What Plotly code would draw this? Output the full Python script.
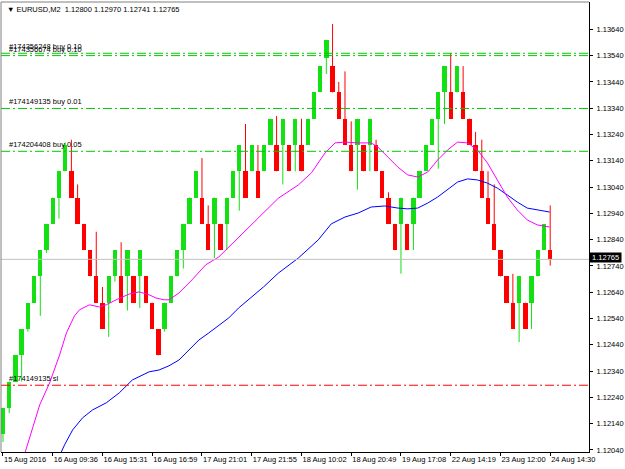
import plotly.graph_objects as go

# ---------------- data ----------------
bar_index = list(range(89))

open_ = [1.121, 1.122, 1.123, 1.124, 1.125, 1.126, 1.127, 1.128, 1.129, 1.130,
         1.131, 1.131, 1.130, 1.129, 1.128, 1.127, 1.126, 1.126, 1.127, 1.127,
         1.127, 1.127, 1.127, 1.127, 1.126, 1.125, 1.125, 1.126, 1.127, 1.128,
         1.129, 1.130, 1.130, 1.129, 1.129, 1.129, 1.129, 1.130, 1.131, 1.131,
         1.131, 1.131, 1.131, 1.132, 1.132, 1.132, 1.132, 1.132, 1.132, 1.132,
         1.133, 1.134, 1.1353, 1.135, 1.134, 1.133, 1.132, 1.132, 1.132, 1.132,
         1.132, 1.131, 1.130, 1.129, 1.129, 1.129, 1.129, 1.130, 1.131, 1.132,
         1.133, 1.134, 1.134, 1.134, 1.134, 1.133, 1.132, 1.131, 1.130, 1.129,
         1.128, 1.127, 1.126, 1.126, 1.126, 1.126, 1.127, 1.128, 1.128]

close_ = [1.122, 1.123, 1.124, 1.125, 1.126, 1.127, 1.128, 1.129, 1.130, 1.131,
          1.132, 1.130, 1.129, 1.128, 1.127, 1.126, 1.125, 1.127, 1.128, 1.126,
          1.128, 1.126, 1.128, 1.126, 1.125, 1.124, 1.126, 1.127, 1.128, 1.129,
          1.130, 1.131, 1.129, 1.128, 1.130, 1.128, 1.130, 1.131, 1.132, 1.130,
          1.132, 1.130, 1.132, 1.133, 1.131, 1.133, 1.131, 1.133, 1.131, 1.133,
          1.134, 1.135, 1.136, 1.134, 1.133, 1.132, 1.131, 1.133, 1.131, 1.133,
          1.131, 1.130, 1.129, 1.128, 1.130, 1.128, 1.130, 1.131, 1.132, 1.133,
          1.134, 1.135, 1.133, 1.135, 1.133, 1.132, 1.131, 1.130, 1.129, 1.128,
          1.127, 1.126, 1.125, 1.127, 1.125, 1.127, 1.128, 1.129, 1.12765]

high_ = [1.122, 1.123, 1.124, 1.125, 1.126, 1.127, 1.128, 1.129, 1.130, 1.131,
         1.1321, 1.1322, 1.1305, 1.129, 1.128, 1.1287, 1.1266, 1.127, 1.128, 1.1283,
         1.128, 1.127, 1.128, 1.127, 1.126, 1.125, 1.126, 1.127, 1.128, 1.129,
         1.130, 1.131, 1.1315, 1.1297, 1.130, 1.129, 1.130, 1.131, 1.132, 1.1328,
         1.132, 1.132, 1.132, 1.133, 1.1331, 1.133, 1.132, 1.133, 1.1330, 1.133,
         1.134, 1.135, 1.136, 1.1366, 1.1344, 1.1348, 1.1329, 1.133, 1.132, 1.133,
         1.1322, 1.131, 1.1302, 1.129, 1.130, 1.129, 1.130, 1.131, 1.132, 1.133,
         1.134, 1.135, 1.1355, 1.135, 1.135, 1.133, 1.1325, 1.1322, 1.131, 1.1305,
         1.128, 1.127, 1.1271, 1.127, 1.126, 1.127, 1.128, 1.129, 1.1297]

low_ = [1.1207, 1.1218, 1.123, 1.123, 1.1249, 1.126, 1.1255, 1.1279, 1.129, 1.1292,
        1.131, 1.130, 1.129, 1.128, 1.127, 1.126, 1.125, 1.1247, 1.1268, 1.126,
        1.1257, 1.126, 1.1258, 1.126, 1.125, 1.124, 1.1249, 1.126, 1.127, 1.1273,
        1.129, 1.130, 1.129, 1.128, 1.1277, 1.128, 1.128, 1.130, 1.1295, 1.130,
        1.131, 1.130, 1.131, 1.132, 1.131, 1.1305, 1.131, 1.131, 1.131, 1.132,
        1.133, 1.134, 1.1347, 1.134, 1.133, 1.132, 1.131, 1.1303, 1.131, 1.131,
        1.131, 1.130, 1.129, 1.128, 1.1271, 1.128, 1.128, 1.130, 1.131, 1.132,
        1.1311, 1.1328, 1.133, 1.134, 1.133, 1.132, 1.131, 1.130, 1.129, 1.128,
        1.127, 1.126, 1.125, 1.1245, 1.125, 1.125, 1.127, 1.128, 1.12741]

# fast moving average (magenta)
ma_fast_x = [2.7, 4.3, 5.9, 7.5, 9.1, 10.2, 11.5, 12.3, 13.9, 15.5, 16.6, 18.2, 19.2,
             20.3, 21.9, 23.5, 24.6, 25.9, 26.7, 28.3, 30.4, 32.6, 34.7, 37.9, 41.1,
             44.3, 47.5, 49.6, 51.8, 53.4, 55.0, 57.1, 59.2, 60.3, 61.9, 63.5, 65.1,
             66.7, 68.3, 69.9, 71.5, 73.1, 74.7, 76.3, 77.9, 79.5, 81.1, 82.7, 84.3,
             85.9, 87.9]
ma_fast_y = [1.11964, 1.12090, 1.12211, 1.12295, 1.12401, 1.12485, 1.12550, 1.12573,
             1.12592, 1.12584, 1.12592, 1.12611, 1.12622, 1.12633, 1.12641, 1.12630,
             1.12618, 1.12611, 1.12611, 1.12637, 1.12687, 1.12744, 1.12774, 1.12850,
             1.12926, 1.12998, 1.13048, 1.13094, 1.13170, 1.13208, 1.13211, 1.13208,
             1.13208, 1.13192, 1.13154, 1.13116, 1.13086, 1.13078, 1.13097, 1.13143,
             1.13181, 1.13211, 1.13208, 1.13181, 1.13132, 1.13067, 1.13002, 1.12953,
             1.12915, 1.12896, 1.12888]

# slow moving average (blue)
ma_slow_x = [8.8, 9.9, 11.2, 12.8, 14.4, 16.6, 18.7, 20.8, 23.5, 25.1, 26.7, 28.3,
             29.9, 31.5, 33.1, 34.7, 36.3, 37.9, 39.5, 41.9, 44.3, 47.5, 50.7, 52.8,
             55.0, 57.1, 59.2, 61.4, 63.5, 65.1, 66.7, 68.3, 69.9, 71.5, 73.1, 74.7,
             76.3, 77.9, 79.5, 81.1, 82.7, 84.3, 85.9, 87.9]
ma_slow_y = [1.12002, 1.12059, 1.12116, 1.12162, 1.12192, 1.12219, 1.12257, 1.12306,
             1.12337, 1.12344, 1.12360, 1.12382, 1.12420, 1.12458, 1.12485, 1.12512,
             1.12542, 1.12580, 1.12611, 1.12660, 1.12713, 1.12770, 1.12839, 1.12900,
             1.12926, 1.12941, 1.12964, 1.12968, 1.12960, 1.12957, 1.12960, 1.12979,
             1.13002, 1.13029, 1.13059, 1.13071, 1.13067, 1.13055, 1.13036, 1.13010,
             1.12983, 1.12960, 1.12953, 1.12945]

# time axis labels (every 8 bars)
time_tick_bars = [0, 8, 16, 24, 32, 40, 48, 56, 64, 72, 80, 88]
time_tick_labels = ["15 Aug 2016", "16 Aug 09:36", "16 Aug 15:31", "16 Aug 16:59",
                    "17 Aug 21:01", "17 Aug 21:55", "18 Aug 10:02", "18 Aug 20:49",
                    "19 Aug 17:08", "22 Aug 14:19", "23 Aug 12:00", "24 Aug 14:30"]

price_ticks = [1.12040, 1.12140, 1.12240, 1.12340, 1.12440, 1.12540, 1.12640, 1.12740,
               1.12840, 1.12940, 1.13040, 1.13140, 1.13240, 1.13340, 1.13440, 1.13540,
               1.13640]

order_prices = [1.13549, 1.13540, 1.13339, 1.13176, 1.12286]
order_labels = ["#174356248 buy 0.10", "#174356674 buy 0.10", "#174149135 buy 0.01",
                "#174204408 buy 0.05", "#174149135 sl"]
order_kinds = ["open", "open", "open", "open", "sl"]

bid_price = 1.12765
title_text = "EURUSD,M2  1.12800 1.12970 1.12741 1.12765"

# ---------------- styling ----------------
BULL = "#14E014"
BEAR = "#FF0000"
FONT = "Liberation Sans, Arial, DejaVu Sans"
FS = 7.5

fig = go.Figure()

# wicks
for color, cond in [(BULL, lambda o, c: c >= o), (BEAR, lambda o, c: c < o)]:
    wx, wy = [], []
    for i, o, c, h, l in zip(bar_index, open_, close_, high_, low_):
        if cond(o, c):
            wx += [i, i, None]
            wy += [l, h, None]
    fig.add_trace(go.Scatter(x=wx, y=wy, mode="lines",
                             line=dict(color=color, width=1),
                             hoverinfo="skip", showlegend=False))

# bodies
for color, cond in [(BULL, lambda o, c: c >= o), (BEAR, lambda o, c: c < o)]:
    bx, bb, bh = [], [], []
    for i, o, c in zip(bar_index, open_, close_):
        if cond(o, c):
            bx.append(i)
            bb.append(o)
            bh.append(c - o)
    fig.add_trace(go.Bar(x=bx, y=bh, base=bb, width=0.7,
                         marker=dict(color=color, line=dict(width=0)),
                         showlegend=False, hoverinfo="skip"))

# moving averages
fig.add_trace(go.Scatter(x=ma_slow_x, y=ma_slow_y, mode="lines",
                         line=dict(color="#0000FF", width=1),
                         showlegend=False, hoverinfo="skip"))
fig.add_trace(go.Scatter(x=ma_fast_x, y=ma_fast_y, mode="lines",
                         line=dict(color="#FF00FF", width=1),
                         showlegend=False, hoverinfo="skip"))

shapes = []
annotations = []

# bid line
shapes.append(dict(type="line", xref="paper", x0=0, x1=1, yref="y",
                   y0=bid_price, y1=bid_price,
                   line=dict(color="#C0C0C0", width=1)))

# order lines
for p, lab, kind in zip(order_prices, order_labels, order_kinds):
    col = "#00C800" if kind == "open" else "#FF0000"
    shapes.append(dict(type="line", xref="paper", x0=0, x1=1, yref="y",
                       y0=p, y1=p,
                       line=dict(color=col, width=1, dash="9px,3px,2px,3px")))
    annotations.append(dict(xref="paper", x=0.011, yref="y", y=p,
                            xanchor="left", yanchor="bottom", yshift=0,
                            text=lab, showarrow=False,
                            font=dict(family=FONT, size=FS, color="#000000")))

# frame (top / left grey borders)
shapes.append(dict(type="line", xref="paper", yref="paper", x0=0, x1=1, y0=1, y1=1,
                   line=dict(color="#808080", width=1)))
shapes.append(dict(type="line", xref="paper", yref="paper", x0=0, x1=0, y0=0, y1=1,
                   line=dict(color="#808080", width=1)))

# title
annotations.append(dict(xref="paper", yref="paper", x=0.006, y=1, xanchor="left",
                        yanchor="top", yshift=-1,
                        text="\u25BC\u00a0" + title_text.replace("  ", "\u00a0\u00a0"),
                        showarrow=False,
                        font=dict(family=FONT, size=FS, color="#000000")))

# current price box
annotations.append(dict(xref="paper", x=1, yref="y", y=bid_price, xanchor="left",
                        yanchor="middle", xshift=0, yshift=2,
                        text="\u00a0%.5f\u00a0" % bid_price, showarrow=False,
                        bgcolor="#000000", borderpad=0,
                        font=dict(family=FONT, size=FS, color="#FFFFFF")))

fig.update_layout(
    width=625, height=469,
    margin=dict(l=1, r=33, t=2, b=17, pad=0),
    paper_bgcolor="#FFFFFF", plot_bgcolor="#FFFFFF",
    barmode="overlay", bargap=0,
    showlegend=False,
    shapes=shapes, annotations=annotations,
    xaxis=dict(range=[-0.32, 94.24], showgrid=False, zeroline=False,
               showline=True, linecolor="#000000", linewidth=1,
               ticks="outside", ticklen=3, tickcolor="#000000",
               tickvals=time_tick_bars, ticktext=time_tick_labels,
               ticklabelposition="outside right", tickangle=0,
               tickfont=dict(family=FONT, size=FS, color="#000000"),
               fixedrange=True),
    yaxis=dict(range=[1.12032, 1.13744], side="right", showgrid=False,
               zeroline=False, showline=True, linecolor="#000000", linewidth=1,
               ticks="outside", ticklen=3, tickcolor="#000000",
               ticklabelstandoff=2,
               tickvals=price_ticks, ticktext=["%.5f" % v for v in price_ticks],
               tickfont=dict(family=FONT, size=FS, color="#000000"),
               fixedrange=True),
)

fig.write_html("out.html")
